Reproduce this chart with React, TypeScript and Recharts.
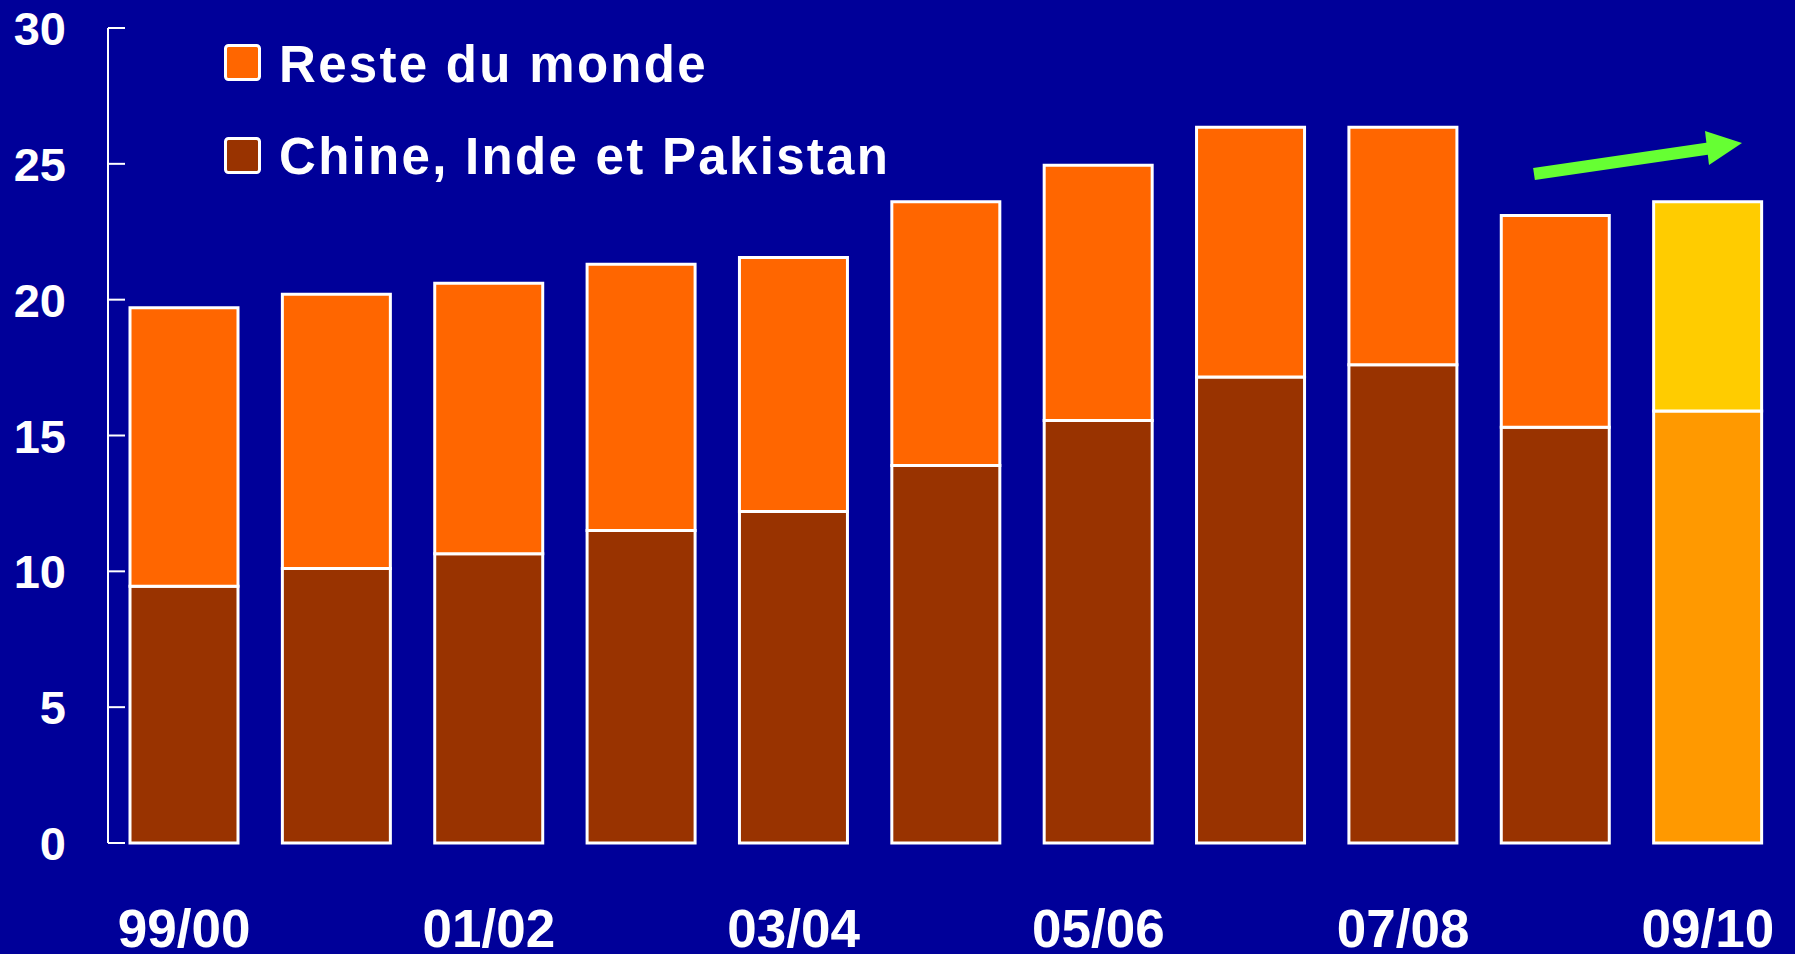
import { BarChart, Bar, XAxis, YAxis, Cell, Legend } from "recharts";

const seasons = ["99/00", "00/01", "01/02", "02/03", "03/04", "04/05", "05/06", "06/07", "07/08", "08/09", "09/10"];
// production, millions of tonnes
const chineIndePakistan = [9.45, 10.1, 10.65, 11.5, 12.2, 13.9, 15.55, 17.15, 17.6, 15.3, 15.9];
const resteDuMonde = [10.25, 10.1, 9.95, 9.8, 9.35, 9.7, 9.4, 9.2, 8.75, 7.8, 7.7];
const yTicks = [0, 5, 10, 15, 20, 25, 30];

const data = seasons.map((season, i) => ({
  season,
  chine: chineIndePakistan[i],
  reste: resteDuMonde[i],
}));

const BG = "#000099";
const FONT = "'Liberation Sans', Arial, Helvetica, sans-serif";
const lastIdx = seasons.length - 1;

function YTick({ x, y, payload }: any) {
  return (
    <g>
      <line x1={x} x2={x + 17} y1={y} y2={y} stroke="#fff" strokeWidth={2} />
      <text x={x - 42} y={y + 17} textAnchor="end" fill="#fff" fontSize={47} fontWeight="bold" fontFamily={FONT}>
        {payload.value}
      </text>
    </g>
  );
}

function XTick({ x, y, payload }: any) {
  return (
    <text x={x} y={y + 104} textAnchor="middle" fill="#fff" fontSize={53} fontWeight="bold" fontFamily={FONT}>
      {payload.value}
    </text>
  );
}

const legendItems = [
  { label: "Reste du monde", color: "#FF6600" },
  { label: "Chine, Inde et Pakistan", color: "#993300" },
];

function LegendBox() {
  return (
    <svg width={900} height={200} style={{ display: "block" }}>
      {legendItems.map((it, i) => (
        <g key={it.label}>
          <rect x={225.5} y={45.5 + i * 93} width={34} height={34} rx={3} fill={it.color} stroke="#fff" strokeWidth={3} />
          <text
            x={279}
            y={82 + i * 92}
            fill="#fff"
            fontSize={51}
            fontWeight="bold"
            fontFamily={FONT}
            letterSpacing={2.3}
          >
            {it.label}
          </text>
        </g>
      ))}
    </svg>
  );
}

export default function App() {
  return (
    <div style={{ position: "absolute", top: 0, left: 0, width: 1795, height: 954, background: BG, overflow: "hidden" }}>
      <BarChart width={1795} height={954} data={data} margin={{ top: 28, right: 11, bottom: 0, left: 0 }}>
        <Legend
          layout="vertical"
          align="center"
          verticalAlign="middle"
          content={() => <LegendBox />}
          wrapperStyle={{ position: "absolute", top: 0, left: 0, width: 900, height: 200 }}
        />
        <YAxis
          domain={[0, 30]}
          ticks={yTicks}
          width={108}
          tickSize={0}
          tickMargin={0}
          axisLine={{ stroke: "#fff", strokeWidth: 2 }}
          tickLine={false}
          tick={<YTick />}
          interval={0}
        />
        <XAxis
          dataKey="season"
          height={111}
          interval={1}
          tickSize={0}
          tickMargin={0}
          axisLine={false}
          tickLine={false}
          tick={<XTick />}
        />
        <Bar dataKey="chine" stackId="a" barSize={108} stroke="#fff" strokeWidth={3} isAnimationActive={false}>
          {data.map((_, i) => (
            <Cell key={i} fill={i === lastIdx ? "#FF9900" : "#993300"} />
          ))}
        </Bar>
        <Bar dataKey="reste" stackId="a" barSize={108} stroke="#fff" strokeWidth={3} isAnimationActive={false}>
          {data.map((_, i) => (
            <Cell key={i} fill={i === lastIdx ? "#FFCC00" : "#FF6600"} />
          ))}
        </Bar>
      </BarChart>
      <svg width={1795} height={954} style={{ position: "absolute", top: 0, left: 0, pointerEvents: "none" }}>
        <line x1={1534} y1={174} x2={1712} y2={148} stroke="#66FF33" strokeWidth={12} />
        <polygon points="1742,143 1705,131 1709,165" fill="#66FF33" />
      </svg>
    </div>
  );
}
